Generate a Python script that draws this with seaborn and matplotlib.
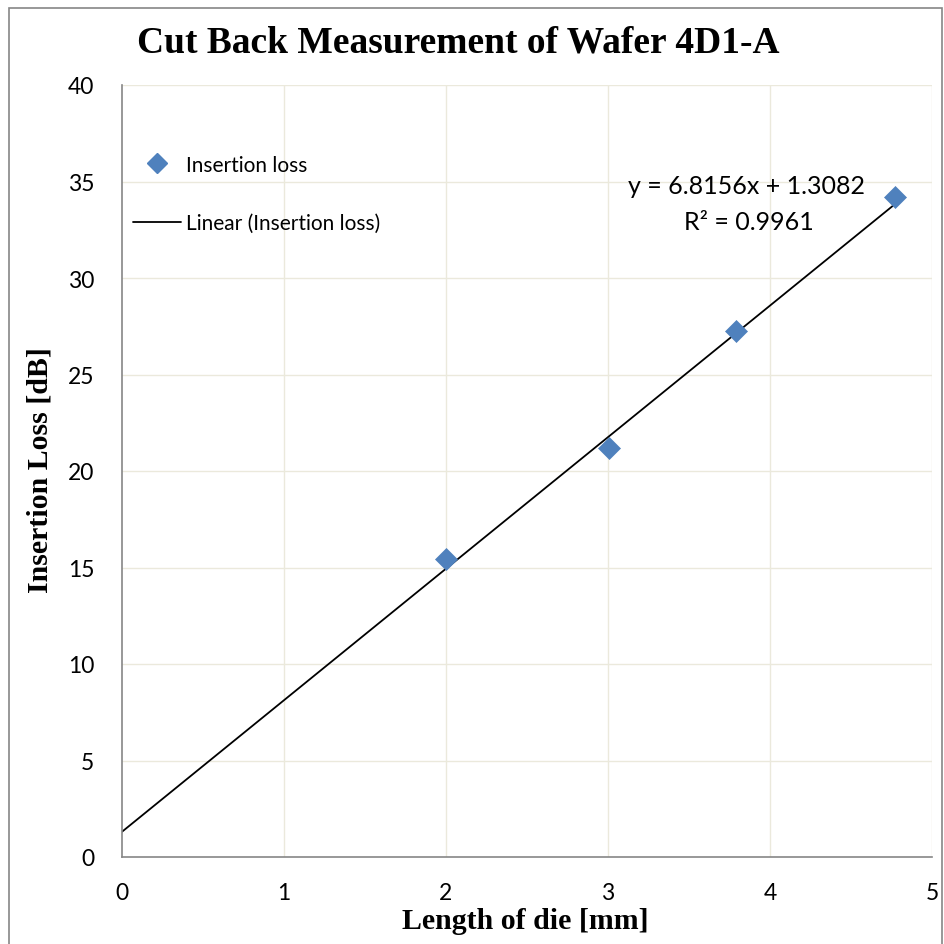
import matplotlib
matplotlib.use("Agg")
import matplotlib.pyplot as plt
import seaborn as sns
import numpy as np
import pandas as pd
from matplotlib.lines import Line2D
from matplotlib.patches import Rectangle

# Data
length_mm = [2.0, 3.006, 3.79, 4.77]
insertion_loss_db = [15.44, 21.19, 27.25, 34.2]
fit_slope = 6.8156
fit_intercept = 1.3082
x_ticks = [0, 1, 2, 3, 4, 5]
y_ticks = [0, 5, 10, 15, 20, 25, 30, 35, 40]

df = pd.DataFrame({"Length": length_mm, "Loss": insertion_loss_db})

sns.set_style("white")
plt.rcParams["text.color"] = "black"
plt.rcParams["axes.labelcolor"] = "black"
plt.rcParams["xtick.color"] = "#868686"
plt.rcParams["ytick.color"] = "#868686"
plt.rcParams["xtick.labelcolor"] = "black"
plt.rcParams["ytick.labelcolor"] = "black"

fig = plt.figure(figsize=(9.45, 9.45), dpi=100)
ax = fig.add_axes([122/945, 1-858/945, (932-122)/945, (858-86)/945])

grid_c = "#ebe9dc"
for v in x_ticks[1:]:
    ax.axvline(v, color=grid_c, lw=1, zorder=0)
for v in y_ticks[1:]:
    ax.axhline(v, color=grid_c, lw=1, zorder=0)

# trend line
xl = np.array([0.0, max(length_mm)])
ax.plot(xl, fit_slope*xl + fit_intercept, color="black", lw=1.3, zorder=2)

sns.scatterplot(data=df, x="Length", y="Loss", marker="D", s=125,
                color="#4f81bd", edgecolor="#4f81bd", linewidth=0.5, ax=ax, zorder=3)

ax.set_xlim(0, 5)
ax.set_ylim(0, 40)
ax.set_xticks(x_ticks)
ax.set_yticks(y_ticks)
tick_font = "Lato"
ax.set_xticklabels([str(t) for t in x_ticks], fontsize=16.5, family=tick_font)
ax.set_yticklabels([str(t) for t in y_ticks], fontsize=16.5, family=tick_font)
ax.tick_params(axis="both", direction="out", length=7, width=1.2)
ax.tick_params(axis="x", pad=11)
ax.tick_params(axis="y", pad=13)
for s in ["top", "right"]:
    ax.spines[s].set_visible(False)
for s in ["left", "bottom"]:
    ax.spines[s].set_color("#868686")
    ax.spines[s].set_linewidth(1.2)

ax.set_xlabel("Length of die [mm]", family="Liberation Serif", fontweight="bold",
              fontsize=21.5, color="black")
ax.set_ylabel("Insertion Loss [dB]", family="Liberation Serif", fontweight="bold",
              fontsize=21.5, color="black")
ax.xaxis.set_label_coords((525-122)/810, (858-922)/772)
ax.xaxis.label.set_verticalalignment("center")
ax.yaxis.set_label_coords((40-122)/810, (858-470)/772)
ax.yaxis.label.set_verticalalignment("center")

fig.text(458/945, 1-43/945, "Cut Back Measurement of Wafer 4D1-A",
         family="Liberation Serif", fontweight="bold", fontsize=27,
         ha="center", va="center", color="black")

handles = [Line2D([], [], marker="D", color="#4f81bd", ls="none", markersize=10.5),
           Line2D([], [], color="black", lw=1.3)]
leg = ax.legend(handles, ["Insertion loss", "Linear (Insertion loss)"],
                loc="center left", bbox_to_anchor=(123/945, 1-195/945),
                bbox_transform=fig.transFigure, frameon=False, borderpad=0,
                prop={"family": tick_font, "size": 15}, handlelength=2.3,
                labelspacing=1.85, handletextpad=0.2)

ax.text(747/945, 1-187/945, "y = 6.8156x + 1.3082", transform=fig.transFigure,
        ha="center", va="center", fontsize=18, family=tick_font)
ax.text(749/945, 1-222/945, "R² = 0.9961", transform=fig.transFigure,
        ha="center", va="center", fontsize=18, family=tick_font)

fig.patches.append(Rectangle((9/945, -0.01), (942-9)/945, 1.01-9/945,
                             transform=fig.transFigure, fill=False,
                             edgecolor="#868686", lw=1.2))

fig.savefig("out.png", dpi=100)
